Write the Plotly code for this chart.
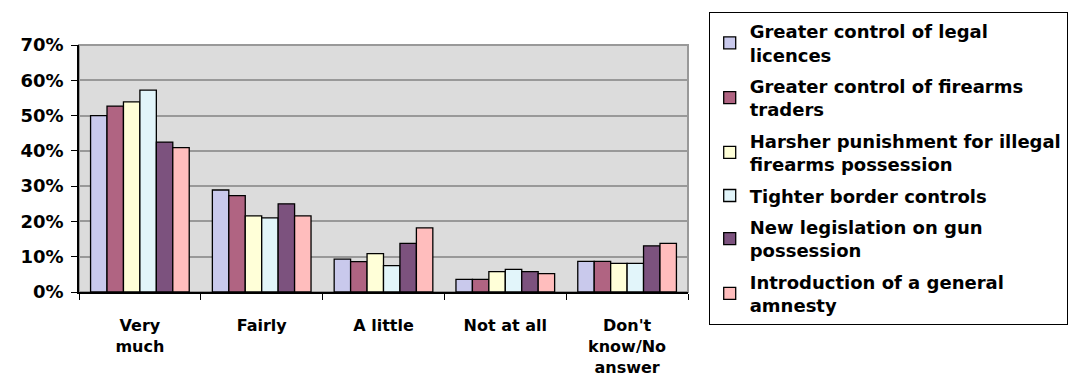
import plotly.graph_objects as go

categories = ["Very<br>much", "Fairly", "A little", "Not at all", "Don't<br>know/No<br>answer"]

series_names = [
    "Greater control of legal<br>licences",
    "Greater control of firearms<br>traders",
    "Harsher punishment for illegal<br>firearms possession",
    "Tighter border controls",
    "New legislation on gun<br>possession",
    "Introduction of a general<br>amnesty",
]

legal_licences = [0.50, 0.289, 0.093, 0.036, 0.087]
firearms_traders = [0.527, 0.273, 0.086, 0.036, 0.087]
harsher_punishment = [0.539, 0.216, 0.109, 0.058, 0.081]
border_controls = [0.572, 0.210, 0.075, 0.064, 0.081]
new_legislation = [0.425, 0.250, 0.138, 0.058, 0.131]
general_amnesty = [0.409, 0.216, 0.182, 0.052, 0.138]

series_values = [legal_licences, firearms_traders, harsher_punishment,
                 border_controls, new_legislation, general_amnesty]

colors = ["#c9c9ec", "#b06482", "#ffffd8", "#e2f5fa", "#7c527e", "#ffbdbd"]

def bold(size):
    return dict(family="DejaVu Sans, Arial, sans-serif", size=size, color="black", weight="bold")

fig = go.Figure()
for i, (name, vals) in enumerate(zip(series_names, series_values)):
    fig.add_trace(go.Bar(
        x=categories, y=vals, name=name, legendgroup=str(i),
        marker=dict(color=colors[i], line=dict(color="black", width=1.3)),
    ))

fig.update_layout(
    width=1082, height=381,
    margin=dict(l=79, r=394, t=45, b=89, autoexpand=False),
    paper_bgcolor="white", plot_bgcolor="#dcdcdc",
    barmode="group", bargap=0.19, bargroupgap=0,
    font=bold(17),
    legend=dict(
        x=1.034, y=1.134, xanchor="left", yanchor="top",
        bordercolor="black", borderwidth=1, bgcolor="white",
        font=bold(18), tracegroupgap=5, itemwidth=30, maxheight=370,
    ),
    shapes=[dict(type="rect", xref="paper", yref="paper", x0=0, y0=0, x1=1, y1=1,
                 line=dict(color="#999999", width=2), layer="below")],
)

fig.update_xaxes(
    showline=True, linecolor="black", linewidth=1.5, automargin=False,
    ticks="outside", tickson="boundaries", ticklen=6, tickcolor="black",
    ticklabelstandoff=18, showgrid=False, tickfont=bold(16),
)
fig.update_yaxes(
    range=[0, 0.7], dtick=0.1, tickformat=".0%", automargin=False,
    showline=True, linecolor="black", linewidth=1.5,
    ticks="outside", ticklen=6, tickcolor="black", ticklabelstandoff=4,
    gridcolor="#999999", gridwidth=1.5, zeroline=False, tickfont=bold(18),
)

fig.write_html("out.html", config={"displayModeBar": False},
               post_script="document.body.style.margin='0px';")
